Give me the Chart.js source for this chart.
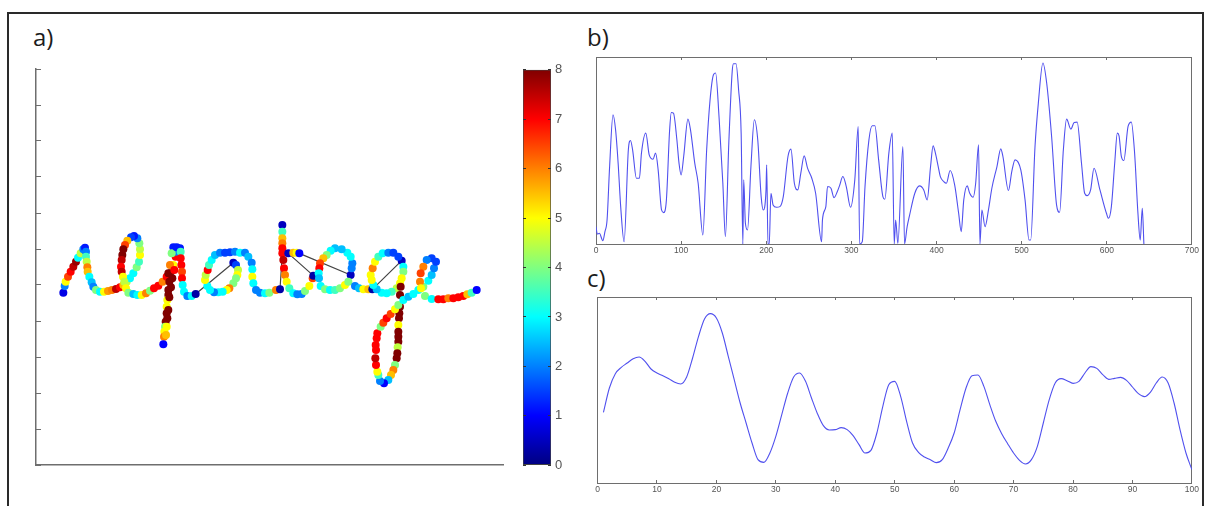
<!DOCTYPE html>
<html><head><meta charset="utf-8">
<script src="https://cdn.jsdelivr.net/npm/chart.js@4"></script>
<style>
html,body{margin:0;padding:0;background:#fff;width:1207px;height:506px;overflow:hidden}
#frame{position:absolute;left:7px;top:12px;width:1193px;height:520px;border:2px solid #2a2a2a;box-sizing:content-box}
canvas{position:absolute;filter:blur(0.45px)}
.tag{position:absolute;font-family:"Open Sans","Noto Sans",sans-serif;font-size:24px;color:#1c1c1c;line-height:28px}
</style></head><body>
<div id="frame"></div>
<div class="tag" style="left:33px;top:23px">a)</div>
<div class="tag" style="left:587px;top:23px">b)</div>
<div class="tag" style="left:587px;top:264px">c)</div>
<canvas id="ca" width="490" height="415" style="left:26px;top:60px"></canvas>
<canvas id="cb" width="60" height="425" style="left:513px;top:55px"></canvas>
<canvas id="cc" width="618" height="210" style="left:586px;top:50px"></canvas>
<canvas id="cd" width="618" height="210" style="left:586px;top:290px"></canvas>
<script>
// a) handwriting trajectory, one dot per sample, coloured by speed
const penX=[82,86,89,96,104,112,120,126,134,142,147,150,150,152,154,155,160,167,172,180,192,204,216,228,240,252,262,272,282,292,302,309,312,312,310,304,294,285,274,267,262,259,257,255,257,261,265,270,277,292,304,317,330,342,354,367,380,392,402,412,419,422,412,407,402,397,400,397,397,394,392,392,389,387,385,384,382,390,392,394,397,400,405,409,415,422,432,434,434,436,438,438,440,444,454,467,479,
592,600,606,604,600,592,580,572,560,547,534,522,514,507,509,515,519,527,537,552,567,582,597,612,627,637,647,649,649,652,660,672,687,700,720,732,
739,739,739,739,739,739,742,744,747,752,760,772,784,797,807,820,830,832,
757,772,782,790,
944,947,949,944,934,917,897,884,872,862,852,850,848,849,854,867,882,897,912,927,937,957,969,982,997,1009,
1097,1102,1102,1097,1092,1082,1067,1052,1037,1022,1012,1007,1004,1010,1017,1027,1040,1057,1072,1087,
1094,1092,1092,1090,1089,1087,1087,1087,1087,1085,1084,1082,1077,1072,1065,1057,1044,1032,1027,1024,1020,1018,1020,1019,1022,1024,1034,1042,1052,1064,1077,1087,1102,1117,1132,1147,1162,1177,1187,1194,1200,1187,1172,1162,1154,1152,1155,1167,1187,1207,1222,1237,1252,1267,1282,1294,1307,1322];
const penY=[517,537,550,565,580,595,610,622,635,647,652,640,625,610,593,580,565,548,535,525,520,520,522,525,528,533,540,550,560,575,593,610,630,647,665,680,687,683,673,660,647,630,615,595,580,565,550,530,517,513,510,510,515,523,530,538,550,565,575,600,625,640,653,635,600,575,550,525,510,495,475,455,430,415,400,385,362,390,415,440,465,503,533,560,585,653,650,640,620,600,580,560,540,520,507,507,513,
607,600,585,570,560,545,530,525,520,518,518,525,537,555,570,585,600,615,630,637,637,638,640,637,637,625,607,587,565,545,525,517,515,517,525,527,
720,700,680,665,650,635,615,590,570,550,530,515,512,513,522,537,560,568,
635,637,637,635,
570,590,605,625,637,647,650,643,630,620,605,590,575,560,537,527,525,525,530,540,550,537,530,527,527,527,
613,595,580,560,545,530,520,515,517,527,540,555,570,590,610,625,635,637,637,625,
535,510,475,455,440,420,400,385,370,353,335,320,300,285,270,255,245,252,270,280,300,320,345,360,380,395,415,427,440,453,467,480,495,505,513,525,535,553,570,590,610,620,615,595,575,550,530,507,498,497,497,500,500,503,507,512,517,525];
const penSpeed=[0.8,2,5,6.5,7,7.5,7.8,3,4.5,2,1.2,2,3.5,4.5,6,5.5,3,2.5,2,4,3,5,5.8,6,7.5,7,5.5,4.5,3,3,4,3.5,5,4.5,4,2,1.2,1.5,5.5,6.5,8,8,7.5,7,7.5,5,4.5,5,4,2.5,3,5,6,4,7,7,6,7,8,5,7,2,1.2,4,6,8,8,8,8,5,5,8,8,4,5,6,1,5.5,5,8,8,8,8,8,7,1.2,1.2,3.5,7,7,6.5,7,3,3,2,3,0.3,
0.5,1.5,4.5,5,4,4,6,5,3,3,2,3,3,5,4.5,7,3.5,3,2.5,2,1.5,1.5,2,3,2,2.5,2,3,5,3,2,2,3,4,6,0.3,
0.5,3.5,5.5,6,7,7,7.5,7,6,5,3.5,3,2,2,4,5,6.5,0.3,
0.5,5.5,5,1,
0.5,2,2,3,3,2.5,2.5,3,4,5.5,6.5,7,3,2.5,3,4,3,3.5,4,5,4,2,2.5,5,5.5,0.3,
0.5,3,4,5,5,4.5,3.5,3,3,2.5,3,5,5,6,5,3.5,3,2,1.5,1.5,
8,8,8,8,8,5,8,8,8,4.5,8,8,4,6,5.5,2.5,1,2,3.5,5,7,7.5,7,7,7,7,4,6.5,7,6.5,5,4,3,2.5,3,3,4,3,2.5,2,1.5,1.5,2,6,6.5,6,5,4,3,7,7,6,7,7,7,5.5,3.5,1];
const liftX=[479,592,null,732,738,null,832,757,null,790,944,null,1009,1097];
const liftY=[513,607,null,527,620,null,568,635,null,635,570,null,527,613];
const xTicksA={min:0,max:1401};
const yTickStepA=108, yMaxA=1188;

// colour bar
const barTop=[8];
const barTickStep=1;

// b) full speed profile
const profileX=[0,1.5,4,8,10.5,13,16,20,23,26,29,33,38,40.5,43,47.5,51,53.4,58.5,62.5,67,70,73,77,79.5,82.7,86.5,88.5,91,95,97.5,100,103,108,111,116,120,125.5,130,134,138,140.5,144.5,149,152,156,160,161.5,164.5,167.5,170.5,172.5,173.5,175.5,178,182,186,190,194,196.5,199.7,200.5,202,203.5,205.5,208,212,216,220,225.5,229,233,237,240.6,244.5,248.5,253.5,258,265,266,270,272,276,279.6,283.5,286,290,294,299,304,308,309.7,312.8,316,320.6,324.5,327.6,332,337,339.3,344,348,350.3,352,354.6,360.5,362.4,365.5,368,374.5,380,385,389,393,396,398.7,402,404.5,408.5,411.6,416,421.3,426,429,432,436,439,443,446,449.4,451,453.3,457,461,465,471,475.5,478,484.5,488.4,492.3,499,504,508.7,510.6,515.7,519.6,525,529.4,535.2,541,544.6,549,552.8,557.8,561.7,565.2,570.3,574,577,581,585,592,599.6,602,605.4,609.3,612.4,614.4,617,620,625,628.8,632.7,636.6,639.3,641.7,643.6];
const profileY=[52,30,32,10,37,72,232,387,342,242,112,7,282,310,282,197,197,272,332,267,254,272,222,102,94,132,342,394,392,312,242,207,262,374,342,242,182,27,282,432,507,512,382,182,22,302,517,540,540,462,332,0,192,62,42,232,372,312,142,102,162,237,0,0,152,117,110,112,142,262,284,182,162,212,264,227,197,152,7,72,112,172,167,139,157,174,202,172,110,192,352,0,7,172,312,354,354,252,142,134,272,332,0,72,2,292,0,52,82,152,174,162,132,232,294,272,232,202,187,182,220,177,92,37,132,174,152,140,182,297,0,102,52,102,167,232,285,262,160,217,252,222,132,12,12,292,422,542,482,322,117,95,282,374,344,364,365,242,152,145,162,227,162,92,77,112,242,332,324,264,250,352,365,272,92,12,107,0];
const profileTicks=[0,700,100];

// c) one hundred samples
const sampleY=[212,285,328,347,360,373,378,365,342,330,322,313,302,297,318,375,440,492,508,495,450,380,310,240,180,120,70,62,90,140,205,270,318,330,305,255,208,172,159,160,166,160,142,115,90,98,150,230,295,305,260,185,120,92,78,70,61,70,105,150,220,285,322,324,290,235,185,148,118,90,68,57,70,110,180,250,300,313,307,299,305,330,349,344,325,311,314,317,308,288,268,259,272,300,318,300,240,160,90,40];
const sampleTicks=[0,100,10];

const axisGrey='#6e6e6e', labelGrey='#555', traceBlue='#5050ee';
const clamp=v=>Math.max(0,Math.min(1,v));
function jet(t){
  const r=clamp(Math.min(4*t-1.5,-4*t+4.5)),g=clamp(Math.min(4*t-0.5,-4*t+3.5)),b=clamp(Math.min(4*t+0.5,-4*t+2.5));
  return `rgb(${Math.round(r*255)},${Math.round(g*255)},${Math.round(b*255)})`;
}
const fixH=h=>s=>{s.height=h}, fixW=w=>s=>{s.width=w};
const base={responsive:false,animation:false,events:[],plugins:{legend:{display:false},tooltip:{enabled:false},title:{display:false}}};

new Chart(document.getElementById('ca'),{
  type:'scatter',
  data:{datasets:[
    {data:penX.map((x,i)=>({x,y:penY[i]})),showLine:false,order:1,pointRadius:4,pointBorderWidth:0,
     pointBackgroundColor:penSpeed.map(v=>jet(v/8))},
    {data:liftX.map((x,i)=>({x,y:liftY[i]})),showLine:true,spanGaps:false,order:2,pointRadius:0,borderColor:'#444',borderWidth:1.2}
  ]},
  options:{...base,layout:{padding:{left:10,right:13,top:9,bottom:10}},
    scales:{
      x:{type:'linear',min:xTicksA.min,max:xTicksA.max,afterFit:fixH(0),ticks:{display:false},grid:{display:false},border:{color:axisGrey,width:1.5}},
      y:{type:'linear',min:0,max:yMaxA,afterFit:fixW(0),ticks:{display:false,stepSize:yTickStepA},
         grid:{drawOnChartArea:false,tickLength:-5,color:axisGrey,tickWidth:1},border:{color:axisGrey,width:1.5}}
    }}
});

new Chart(document.getElementById('cb'),{
  type:'bar',
  data:{labels:[''],datasets:[{data:barTop,barPercentage:1,categoryPercentage:1,borderWidth:1,borderColor:'#444',borderSkipped:false,
    backgroundColor(c){
      const a=c.chart.chartArea; if(!a) return '#000';
      const g=c.chart.ctx.createLinearGradient(0,a.bottom,0,a.top);
      for(let i=0;i<=32;i++) g.addColorStop(i/32,jet(i/32));
      return g;
    }}]},
  options:{...base,layout:{padding:{left:10,right:0,top:14,bottom:14}},
    scales:{
      x:{afterFit:fixH(0),ticks:{display:false},grid:{display:false},border:{display:false}},
      y:{type:'linear',position:'right',min:0,max:barTop[0],afterFit:fixW(22),
         ticks:{stepSize:barTickStep,padding:7,color:labelGrey,font:{family:'"Liberation Sans",Arial,sans-serif',size:13}},
         grid:{drawOnChartArea:false,tickLength:-3,color:'#333',z:1},border:{display:false}},
      yLeft:{type:'linear',position:'left',min:0,max:barTop[0],afterFit:fixW(0),ticks:{display:false,stepSize:barTickStep},
         grid:{drawOnChartArea:false,tickLength:-3,color:'#333',z:1},border:{display:false}}
    }}
});

function boxScales(xmin,xmax,step,ymax,bottomH){
  const lab={color:labelGrey,font:{family:'"Liberation Sans",Arial,sans-serif',size:8.5},stepSize:step,padding:5,maxRotation:0,autoSkip:false};
  const tick={drawOnChartArea:false,tickLength:-3,color:axisGrey};
  const edge={color:axisGrey,width:1};
  return {
    x:{type:'linear',position:'bottom',min:xmin,max:xmax,afterFit:fixH(bottomH),ticks:lab,grid:tick,border:edge},
    xTop:{type:'linear',position:'top',min:xmin,max:xmax,afterFit:fixH(0),ticks:{display:false,stepSize:step},grid:tick,border:edge},
    y:{type:'linear',position:'left',min:0,max:ymax,afterFit:fixW(0),ticks:{display:false},grid:{display:false},border:edge},
    yRight:{type:'linear',position:'right',min:0,max:ymax,afterFit:fixW(0),ticks:{display:false},grid:{display:false},border:edge}
  };
}

new Chart(document.getElementById('cc'),{
  type:'line',
  data:{datasets:[{data:profileX.map((x,i)=>({x,y:profileY[i]})),borderColor:traceBlue,borderWidth:1.1,pointRadius:0,cubicInterpolationMode:'monotone'}]},
  options:{...base,layout:{padding:{left:10,right:10,top:7,bottom:2}},scales:boxScales(profileTicks[0],profileTicks[1],profileTicks[2],560,14)}
});

new Chart(document.getElementById('cd'),{
  type:'line',
  data:{datasets:[{data:sampleY.map((y,i)=>({x:i+1,y})),borderColor:traceBlue,borderWidth:1.1,pointRadius:0,cubicInterpolationMode:'monotone'}]},
  options:{...base,layout:{padding:{left:11.5,right:11,top:7,bottom:3}},scales:boxScales(sampleTicks[0],sampleTicks[1],sampleTicks[2],558,14)}
});
</script>
</body></html>
